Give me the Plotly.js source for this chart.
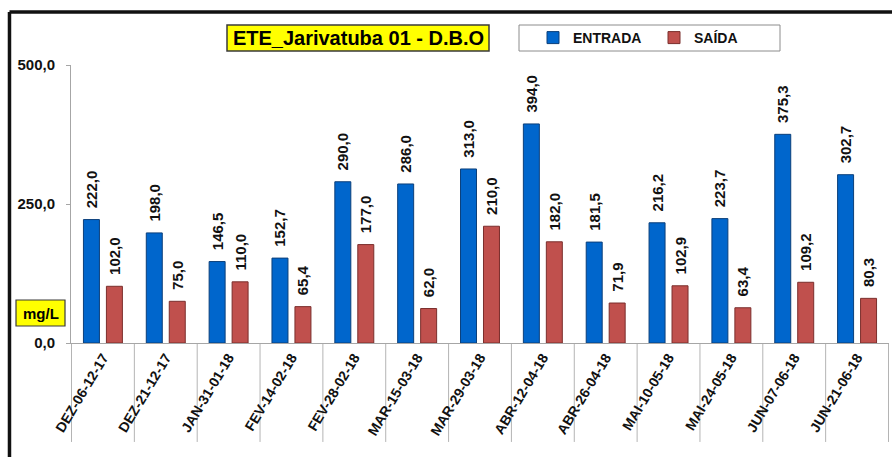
<!DOCTYPE html>
<html>
<head>
<meta charset="utf-8">
<script src="https://cdn.plot.ly/plotly-3.0.1.min.js"></script>
<style>
html,body{margin:0;padding:0;background:#fff;}
#chart{width:892px;height:457px;}
</style>
</head>
<body>
<div id="chart"></div>
<script>
const categories = ["DEZ-06-12-17","DEZ-21-12-17","JAN-31-01-18","FEV-14-02-18","FEV-28-02-18","MAR-15-03-18","MAR-29-03-18","ABR-12-04-18","ABR-26-04-18","MAI-10-05-18","MAI-24-05-18","JUN-07-06-18","JUN-21-06-18"];
const entrada = [222.0,198.0,146.5,152.7,290.0,286.0,313.0,394.0,181.5,216.2,223.7,375.3,302.7];
const saida = [102.0,75.0,110.0,65.4,177.0,62.0,210.0,182.0,71.9,102.9,63.4,109.2,80.3];
const yTicks = [0,250,500];

const FONT = "Liberation Sans, Arial, sans-serif";
const labelFont = {family: FONT, size: 15, color: "#111", weight: "bold"};

function barTrace(name, vals, color, lineColor) {
  return {
    type: "bar", name: name, x: categories, y: vals,
    marker: {color: color, line: {color: lineColor, width: 1}},
    texttemplate: "\u00a0\u00a0%{y:.1f}", textposition: "outside", textangle: -90,
    textfont: labelFont, constraintext: "none", cliponaxis: false,
    hoverinfo: "x+y"
  };
}

const data = [
  barTrace("ENTRADA", entrada, "#0066CC", "#0B3F7A"),
  barTrace("SAÍDA", saida, "#C0504D", "#7A2E2C")
];

const W = 892, H = 457;
const cx = px => px / W;          // container x
const cy = py => 1 - py / H;      // container y

// divider lines below the category axis, at category boundaries
const shapes = [];
for (let i = 0; i <= categories.length; i++) {
  shapes.push({type: "line", xref: "x", yref: "paper", x0: i - 0.5, x1: i - 0.5, y0: 0, y1: -0.356,
    line: {color: "#B4B4B4", width: 1}, layer: "below"});
}
// outer border (left + top)
shapes.push({type: "line", xref: "paper", yref: "paper", x0: -0.0752, x1: -0.0752, y0: -0.6, y1: 1.1906, line: {color: "#111", width: 3.5}});
shapes.push({type: "line", xref: "paper", yref: "paper", x0: -0.0752, x1: 1.02, y0: 1.1906, y1: 1.1906, line: {color: "#111", width: 3.5}});
// title box
shapes.push({type: "rect", xref: "paper", yref: "paper", x0: (227-71)/818, x1: (489-71)/818, y0: 1+(65-51)/278, y1: 1+(65-25)/278,
  fillcolor: "#FFFF00", line: {color: "#3A3A3A", width: 1.5}});
// legend box
shapes.push({type: "rect", xref: "paper", yref: "paper", x0: (519-71)/818, x1: (780-71)/818, y0: 1+(65-51)/278, y1: 1+(65-25)/278,
  fillcolor: "#FFFFFF", line: {color: "#8C8C8C", width: 1}});
// mg/L box
shapes.push({type: "rect", xref: "paper", yref: "paper", x0: (16-71)/818, x1: (65-71)/818, y0: (343-326)/278, y1: (343-300)/278,
  fillcolor: "#FFFF00", line: {color: "#3A3A3A", width: 1.2}});

const layout = {
  width: W, height: H,
  margin: {l: 71, r: 3, t: 65, b: 114, pad: 0},
  paper_bgcolor: "#fff", plot_bgcolor: "#fff",
  separators: ",.",
  font: {family: FONT, color: "#111"},
  barmode: "group", bargap: 0.269, bargroupgap: 0.304,
  title: {text: "ETE_Jarivatuba 01 - D.B.O", xref: "container", x: cx(358.5), xanchor: "center",
    yref: "container", y: cy(38), yanchor: "middle", automargin: false,
    font: {family: FONT, size: 20, color: "#000", weight: "bold"}},
  showlegend: true,
  legend: {orientation: "h", xref: "container", yref: "container", x: cx(533), xanchor: "left", y: cy(38), yanchor: "middle",
    bgcolor: "rgba(0,0,0,0)", borderwidth: 0, entrywidth: 76, entrywidthmode: "pixels",
    font: {family: FONT, size: 14, color: "#111", weight: "bold"}, itemclick: false},
  xaxis: {type: "category", showgrid: false, showline: true, linecolor: "#A6A6A6", linewidth: 1,
    ticks: "", tickangle: -59, tickfont: {family: FONT, size: 14, color: "#111", weight: "bold"},
    zeroline: false, fixedrange: true, automargin: false},
  yaxis: {range: [0, 500], tickvals: yTicks, tickformat: ".1f", showgrid: false, zeroline: false,
    showline: true, linecolor: "#A6A6A6", linewidth: 1, ticks: "outside", ticklen: 4, tickcolor: "#A6A6A6",
    ticklabelstandoff: 8, tickfont: {family: FONT, size: 15, color: "#111", weight: "bold"}, fixedrange: true, automargin: false},
  shapes: shapes,
  annotations: [
    {text: "mg/L", xref: "paper", yref: "paper", x: (40.5-71)/818, y: (343-313)/278, xanchor: "center", yanchor: "middle",
      showarrow: false, font: {family: FONT, size: 15, color: "#000", weight: "bold"}}
  ]
};

Plotly.newPlot("chart", data, layout, {displayModeBar: false, staticPlot: true});
</script>
</body>
</html>
